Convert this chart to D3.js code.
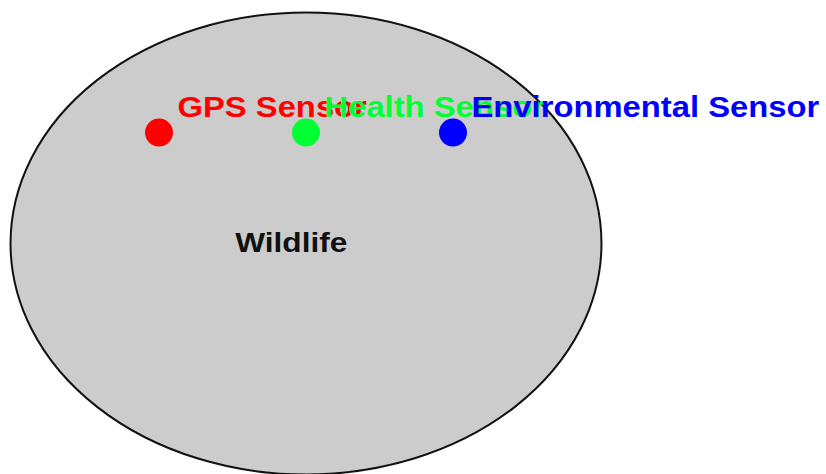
<!DOCTYPE html>
<html>
<head>
<meta charset="utf-8">
<script src="https://cdn.jsdelivr.net/npm/d3@7"></script>
<style>
  html, body { margin: 0; padding: 0; background: #fff; }
  svg { display: block; }
  text { font-family: "Liberation Sans", Arial, sans-serif; }
</style>
</head>
<body>
<script>
// Data
const sensorNames = ["GPS Sensor", "Health Sensor", "Environmental Sensor"];
const sensorX = [1, 2, 3];
const sensorY = [0.48, 0.48, 0.48];
const sensorColors = ["#ff0000", "#00ff33", "#0000ff"];
const groupName = ["Wildlife"];
const groupCenter = [2, 0];
const groupRadii = [2.01, 1];
const groupLabelPos = [1.9, 0];

const W = 826, H = 474;
const stretch = 1.13;
const svg = d3.select("body").append("svg").attr("width", W).attr("height", H);

const x = d3.scaleLinear().domain([0, 4]).range([12, 600]);
const y = d3.scaleLinear().domain([-1, 1]).range([474.5, 12.5]);

// Ellipse (group)
svg.append("ellipse")
  .attr("cx", x(groupCenter[0]))
  .attr("cy", y(groupCenter[1]))
  .attr("rx", x(groupCenter[0] + groupRadii[0]) - x(groupCenter[0]))
  .attr("ry", y(groupCenter[1]) - y(groupCenter[1] + groupRadii[1]))
  .attr("fill", "#cccccc")
  .attr("stroke", "#111")
  .attr("stroke-width", 2);

svg.append("text")
  .attr("transform", `translate(${x(groupLabelPos[0])},${y(groupLabelPos[1]) + 8.5}) scale(${stretch},1)`)
  .attr("text-anchor", "middle")
  .attr("font-size", 28)
  .attr("font-weight", "bold")
  .attr("fill", "#111")
  .text(groupName[0]);

const sensors = sensorNames.map((n, i) => ({ name: n, x: sensorX[i], y: sensorY[i], color: sensorColors[i] }));

svg.selectAll("circle.sensor").data(sensors).enter().append("circle")
  .attr("class", "sensor")
  .attr("cx", d => x(d.x))
  .attr("cy", d => y(d.y))
  .attr("r", 14)
  .attr("fill", d => d.color);

svg.selectAll("text.sensor").data(sensors).enter().append("text")
  .attr("class", "sensor")
  .attr("transform", d => `translate(${x(d.x) + 18.5},${y(d.y) - 15.5}) scale(${stretch},1)`)
  .attr("font-size", 29)
  .attr("font-weight", "bold")
  .attr("fill", d => d.color)
  .text(d => d.name);
</script>
</body>
</html>
